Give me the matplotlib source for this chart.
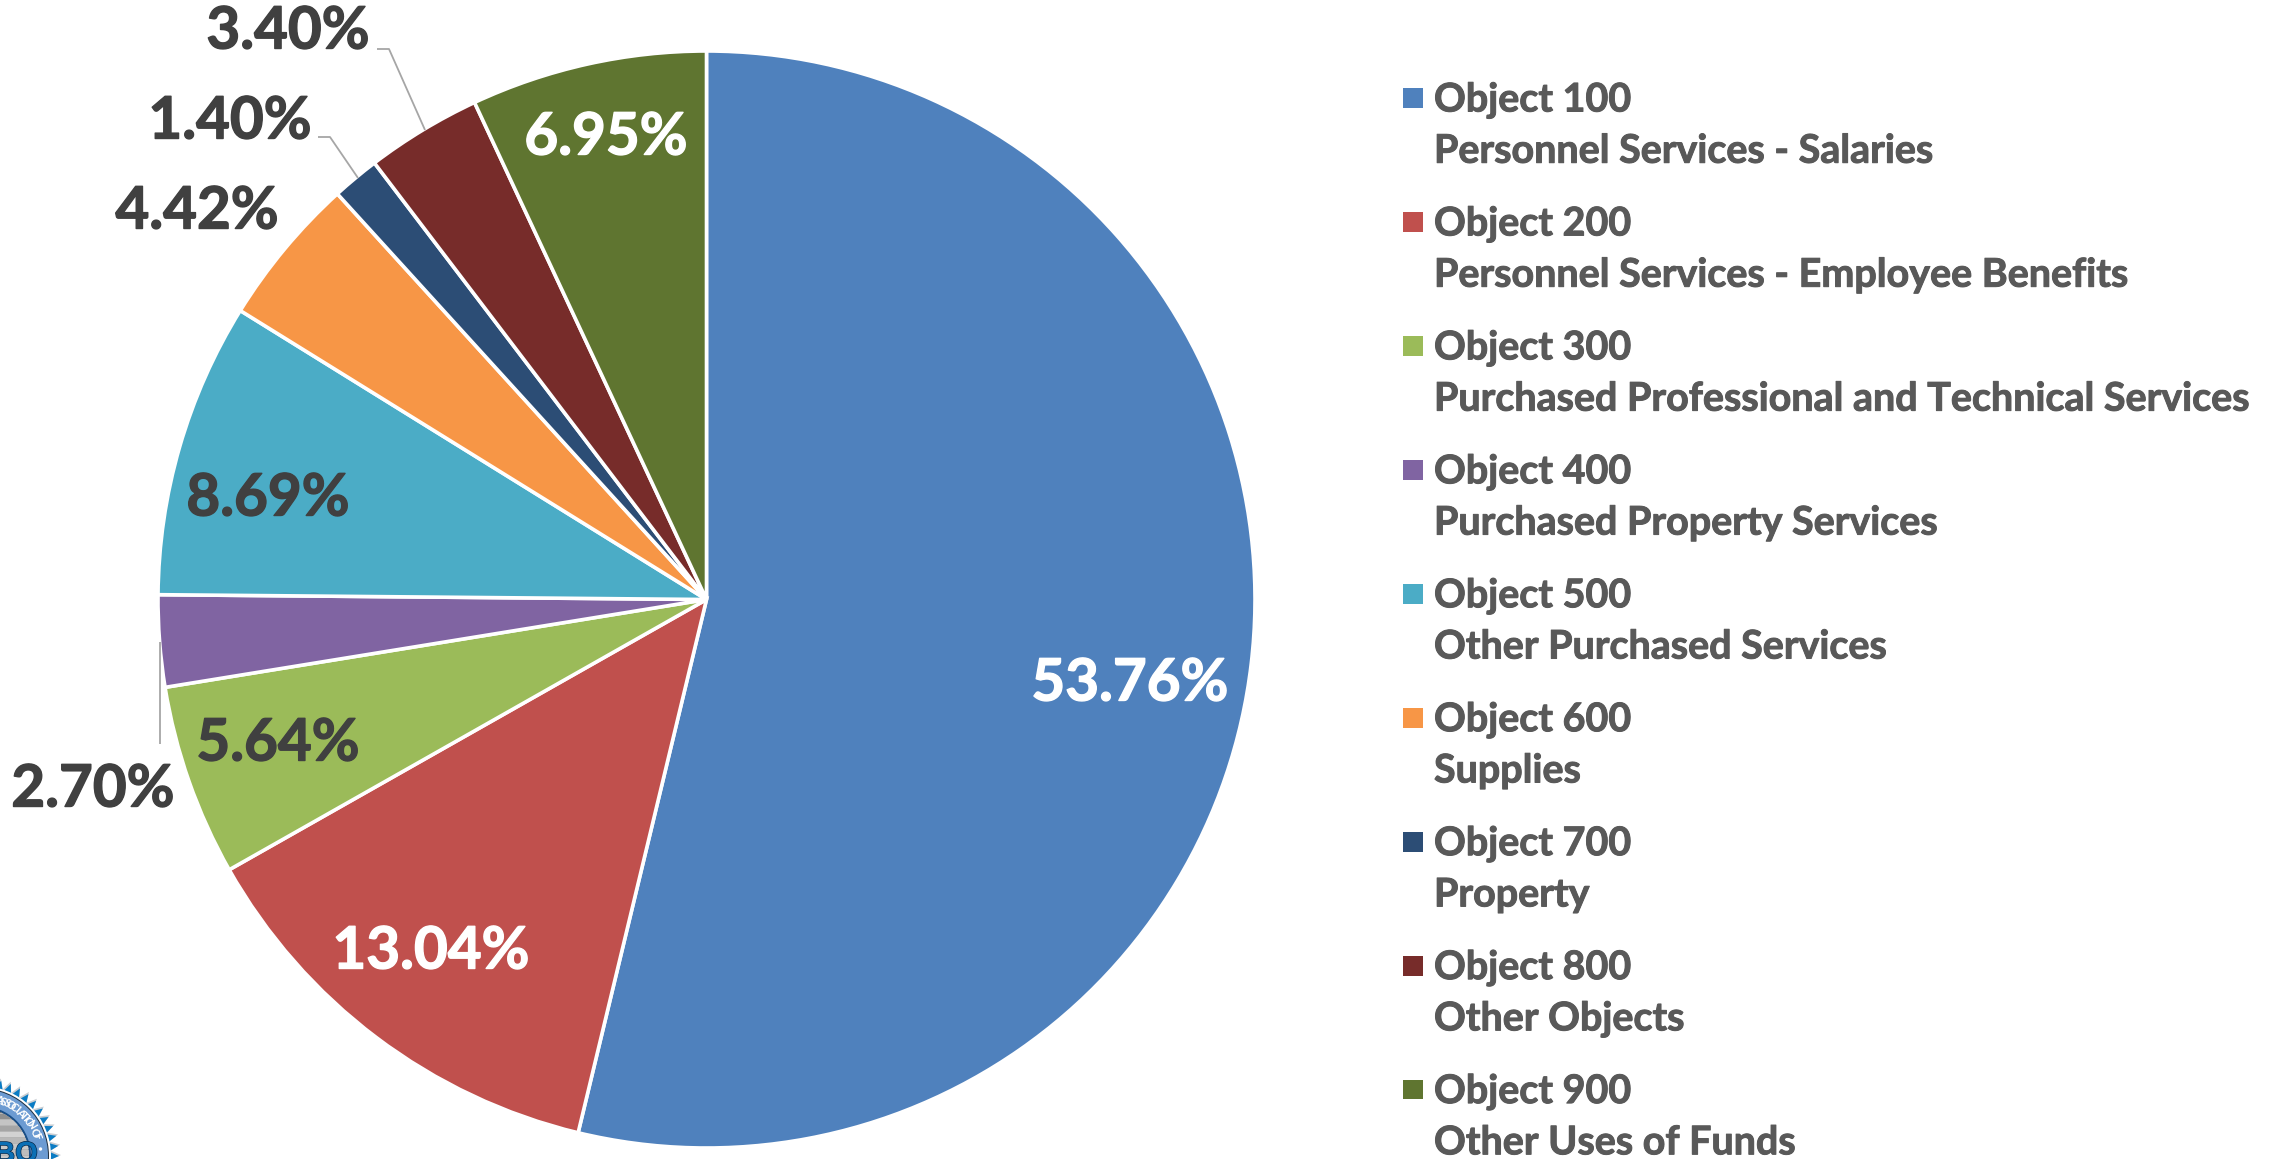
import numpy as np
import matplotlib
matplotlib.use("Agg")
import matplotlib.pyplot as plt
import matplotlib.patheffects as pe
from matplotlib.patches import Circle, Polygon, Patch, Rectangle
from matplotlib.legend_handler import HandlerPatch

# ---- data ----
codes = ["Object 100", "Object 200", "Object 300", "Object 400", "Object 500",
         "Object 600", "Object 700", "Object 800", "Object 900"]
names = ["Personnel Services - Salaries", "Personnel Services - Employee Benefits",
         "Purchased Professional and Technical Services", "Purchased Property Services",
         "Other Purchased Services", "Supplies", "Property", "Other Objects",
         "Other Uses of Funds"]
shares = [53.76, 13.04, 5.64, 2.70, 8.69, 4.42, 1.40, 3.40, 6.95]
colors = ["#4F81BD", "#C0504D", "#9BBB59", "#8064A2", "#4BACC6",
          "#F79646", "#2C4D75", "#772C2A", "#5F7530"]

# ---- layout (pixel positions of the data labels, top-left origin) ----
W, H = 2283, 1159
label_xy = [(1130, 679), (431, 947), (278, 739), (93, 785), (268, 494),
            (197, 207), (230, 117), (288, 27), (606, 133)]
label_col = ["white", "white", "#404040", "#404040", "#404040",
             "#404040", "#404040", "#404040", "white"]
leaders = {3: [(160, 744), (160, 642)],
           6: [(318, 137), (330, 137), (358, 178)],
           7: [(377, 49), (389, 49), (425, 130)]}

plt.rcParams["font.family"] = ["Lato", "DejaVu Sans"]
plt.rcParams["font.weight"] = "bold"
fig = plt.figure(figsize=(W / 100, H / 100), dpi=100, facecolor="white")
ax = fig.add_axes([0, 0, 1, 1])


def fy(y):
    return H - y


wedges, _ = ax.pie(shares, colors=colors, startangle=90, counterclock=False,
                   center=(706.5, fy(599.5)), radius=548.5,
                   wedgeprops=dict(edgecolor="white", linewidth=2.6))
ax.set_xlim(0, W)
ax.set_ylim(0, H)
ax.set_aspect("equal")
ax.axis("off")

for i, (s, (x, y), c) in enumerate(zip(shares, label_xy, label_col)):
    ax.text(x, fy(y), f"{s:.2f}%", color=c, fontsize=42, fontweight="bold",
            ha="center", va="center_baseline",
            path_effects=[pe.withStroke(linewidth=1.0, foreground=c)])

for pts in leaders.values():
    ax.plot([p[0] for p in pts], [fy(p[1]) for p in pts], color="#A6A6A6",
            lw=1.3, solid_capstyle="butt")


# ---- legend ----
class RaisedSquare(HandlerPatch):
    def create_artists(self, legend, orig, xd, yd, width, height, fontsize, trans):
        side = 19.5 * 0.72
        r = Rectangle((0, height / 2 - side / 2 + 20.3), side, side,
                      facecolor=orig.get_facecolor(), edgecolor="none", transform=trans)
        return [r]


handles = [Patch(facecolor=c) for c in colors]
labels = [f"{a}\n{b}" for a, b in zip(codes, names)]
leg = ax.legend(handles, labels, loc="upper left", bbox_to_anchor=(1403 / W, 1 - 82.5 / H),
                bbox_transform=fig.transFigure, frameon=False, fontsize=28.4,
                borderpad=0, borderaxespad=0, labelspacing=0.956, handlelength=0.5,
                handletextpad=0.285, handler_map={Patch: RaisedSquare()},
                labelcolor="#595959", alignment="left")
for t in leg.get_texts():
    t.set_linespacing(1.56)
    t.set_fontweight("bold")
    t.set_path_effects([pe.withStroke(linewidth=0.7, foreground="#595959")])

# ---- seal in the lower-left corner ----
cx, cy, rt = -19, fy(1156), 78
n = 48
ang = np.linspace(0, 2 * np.pi, 2 * n, endpoint=False)
rad = np.where(np.arange(2 * n) % 2 == 0, rt, rt - 10)
star = np.c_[cx + rad * np.cos(ang), cy + rad * np.sin(ang)]
halo = np.c_[cx + (rad + 2) * np.cos(ang + 0.012), cy + (rad + 2) * np.sin(ang + 0.012)]
ax.add_patch(Polygon(halo, closed=True, fc="#C9CDD2", ec="none", zorder=3))
ax.add_patch(Polygon(star, closed=True, fc="#0B7CC4", ec="none", zorder=3.1))
ax.add_patch(Circle((cx, cy), 70, fc="white", ec="none", zorder=3.2))
ax.add_patch(Circle((cx, cy), 68, fc="#20303F", ec="none", zorder=3.3))
ax.add_patch(Circle((cx, cy), 67, fc="#6C9BD2", ec="none", zorder=3.4))
ax.add_patch(Circle((cx, cy), 50, fc="#1A4E86", ec="none", zorder=3.5))
disc = Circle((cx, cy), 48, fc="#B5B5B5", ec="none", zorder=3.6)
ax.add_patch(disc)
for k, yy in enumerate(range(1108, 1160, 6)):
    band = Rectangle((-70, fy(yy + 5)), 140, 5,
                     fc=["#6F6F6F", "#8F8F8F", "#C4C4C4", "#A5A5A5", "#D2D2D2", "#B8B8B8",
                         "#C8C8C8", "#BDBDBD", "#C8C8C8"][k % 9], ec="none", zorder=3.7)
    ax.add_patch(band)
    band.set_clip_path(disc)
for ch, deg in zip("ASSOCIATION OF", 18 + 4.05 * np.arange(14)):
    a = np.deg2rad(deg)
    ax.text(cx + 58.5 * np.sin(a), cy + 58.5 * np.cos(a), ch, color="white", fontsize=8.5,
            ha="center", va="center", rotation=-deg, rotation_mode="anchor", zorder=3.8,
            fontweight="bold")
ax.add_patch(Circle((40.5, fy(1149)), 1.7, fc="white", ec="none", zorder=3.8))
ax.text(16, fy(1140), "BO", color="#0B6FB5", fontsize=21, fontweight="bold", ha="center",
        va="top", zorder=3.9, fontfamily="Liberation Sans",
        path_effects=[pe.withStroke(linewidth=1.0, foreground="#0A2A4A")])

fig.savefig("out.png", dpi=100, facecolor="white")
